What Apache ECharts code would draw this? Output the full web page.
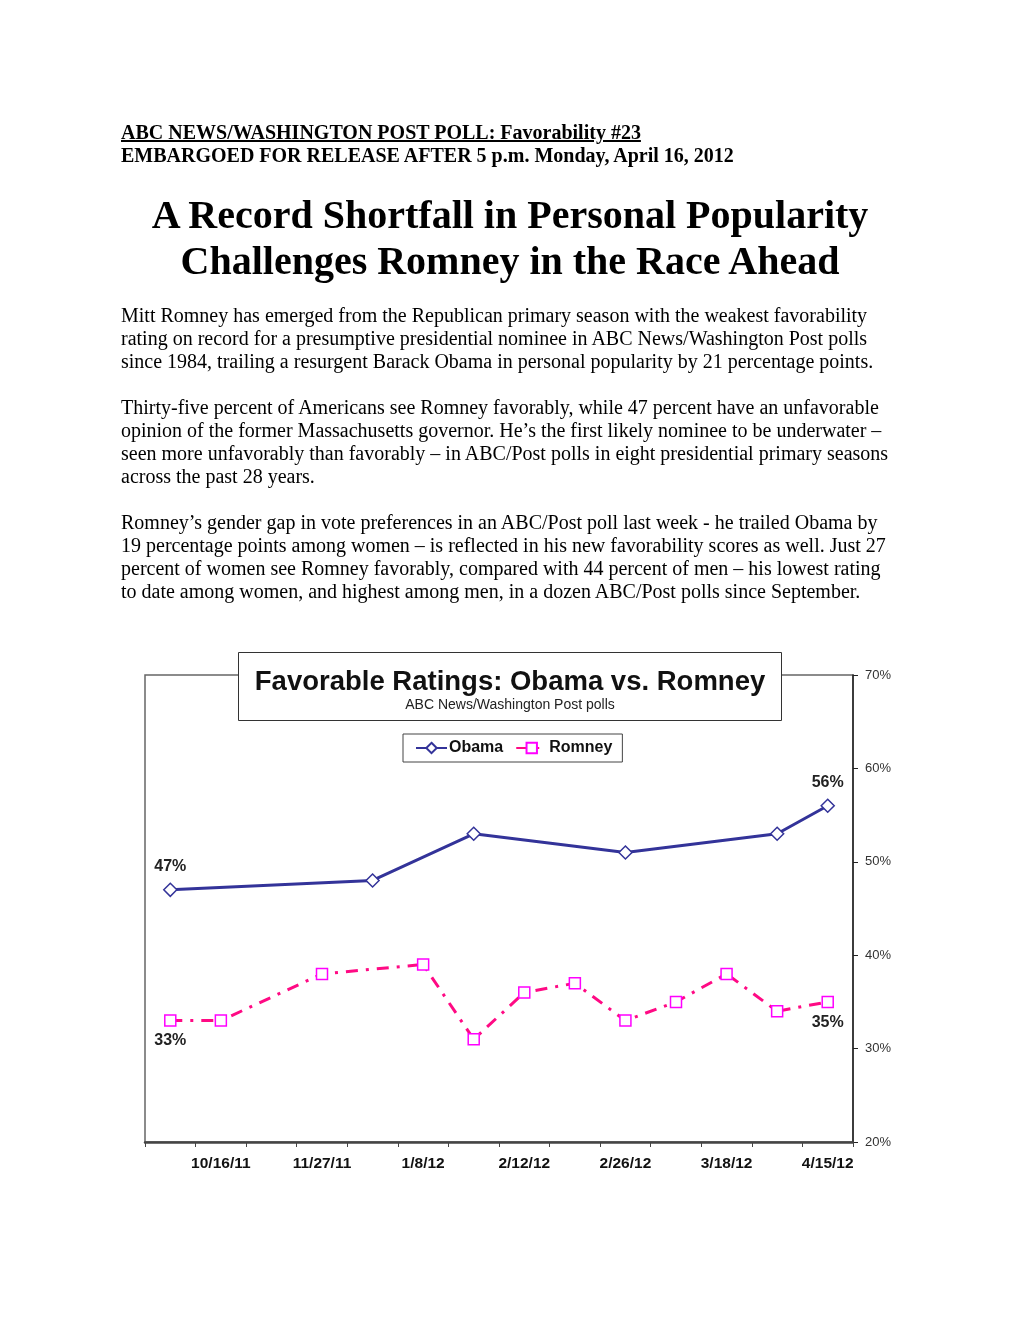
<!DOCTYPE html>
<html>
<head>
<meta charset="utf-8">
<script src="https://cdn.jsdelivr.net/npm/echarts@6/dist/echarts.min.js"></script>
<style>
  html, body { margin: 0; padding: 0; background: #fff; }
  body { width: 1020px; height: 1320px; position: relative; overflow: hidden; }
  .serif { font-family: "Liberation Serif", "Times New Roman", serif; color: #000; position: absolute; white-space: nowrap; }
  #hdr { left: 121px; top: 121px; font-size: 20px; line-height: 23px; font-weight: bold; }
  #hdr u { text-decoration: underline; }
  #ttl { left: 0; width: 1020px; text-align: center; top: 192px; font-size: 40px; line-height: 46px; font-weight: bold; }
  .p { left: 121px; font-size: 20px; line-height: 23px; }
  #chart { position: absolute; left: 0; top: 0; width: 1020px; height: 1320px; }
</style>
</head>
<body>
<div id="chart"></div>
<div id="hdr" class="serif"><u>ABC NEWS/WASHINGTON POST POLL: Favorability #23</u><br>EMBARGOED FOR RELEASE AFTER 5 p.m. Monday, April 16, 2012</div>
<div id="ttl" class="serif">A Record Shortfall in Personal Popularity<br>Challenges Romney in the Race Ahead</div>
<div class="serif p" style="top:304px">Mitt Romney has emerged from the Republican primary season with the weakest favorability<br>rating on record for a presumptive presidential nominee in ABC News/Washington Post polls<br>since 1984, trailing a resurgent Barack Obama in personal popularity by 21 percentage points.</div>
<div class="serif p" style="top:396px">Thirty-five percent of Americans see Romney favorably, while 47 percent have an unfavorable<br>opinion of the former Massachusetts governor. He’s the first likely nominee to be underwater –<br>seen more unfavorably than favorably – in ABC/Post polls in eight presidential primary seasons<br>across the past 28 years.</div>
<div class="serif p" style="top:511px">Romney’s gender gap in vote preferences in an ABC/Post poll last week - he trailed Obama by<br>19 percentage points among women – is reflected in his new favorability scores as well. Just 27<br>percent of women see Romney favorably, compared with 44 percent of men – his lowest rating<br>to date among women, and highest among men, in a dozen ABC/Post polls since September.</div>
<script>
// Poll dates (only labelled ones are known; others left blank)
var categories = ['', '10/16/11', '', '11/27/11', '', '1/8/12', '', '2/12/12', '', '2/26/12', '', '3/18/12', '', '4/15/12'];
var obama   = [47, null, null, null, 48, null, 53, null, null, 51, null, null, 53, 56];
var romney  = [33, 33, null, 38, null, 39, 31, 36, 37, 33, 35, 38, 34, 35];
var yTicks  = [20, 30, 40, 50, 60, 70];

var SANS = '"Liberation Sans", Arial, sans-serif';
var chart = echarts.init(document.getElementById('chart'), null, { renderer: 'canvas' });

function endLabel(arr) {
  var last = arr.length - 1;
  return function (params) {
    return (params.dataIndex === 0 || params.dataIndex === last) ? params.value + '%' : '';
  };
}

chart.setOption({
  animation: false,
  title: {
    text: 'Favorable Ratings: Obama vs. Romney',
    subtext: 'ABC News/Washington Post polls',
    left: 'center',
    top: 652,
    padding: [15, 17, 8, 17],
    itemGap: 0,
    borderColor: '#333',
    borderWidth: 1,
    backgroundColor: '#fff',
    textStyle: { fontFamily: SANS, fontSize: 27.5, fontWeight: 'bold', color: '#111', lineHeight: 30 },
    subtextStyle: { fontFamily: SANS, fontSize: 14, color: '#222', lineHeight: 16 },
    z: 10
  },
  legend: {
    data: ['Obama', 'Romney'],
    left: 403,
    top: 734,
    padding: [6, 10, 6, 12],
    itemGap: 12,
    itemWidth: 31,
    itemHeight: 13,
    borderColor: '#444',
    borderWidth: 1,
    backgroundColor: '#fff',
    textStyle: { fontFamily: SANS, fontSize: 16, fontWeight: 'bold', color: '#111', padding: [0, 0, 0, -3] }
  },
  grid: {
    left: 145, right: 167, top: 675, bottom: 178,
    show: true, borderColor: '#666', borderWidth: 1.5, backgroundColor: 'transparent'
  },
  xAxis: {
    type: 'category',
    data: categories,
    boundaryGap: true,
    axisLine: { lineStyle: { color: '#444', width: 2.5 } },
    axisTick: { show: true, interval: 0, alignWithLabel: false, length: 5, lineStyle: { color: '#444', width: 1 } },
    axisLabel: { interval: 0, margin: 14, fontFamily: SANS, fontSize: 15.5, fontWeight: 'bold', color: '#111' },
    splitLine: { show: false }
  },
  yAxis: {
    type: 'value',
    position: 'right',
    min: yTicks[0], max: yTicks[yTicks.length - 1], interval: 10,
    axisLine: { show: true, lineStyle: { color: '#222', width: 1.5 } },
    axisTick: { show: true, length: 5, inside: false, lineStyle: { color: '#222' } },
    axisLabel: { margin: 12, fontFamily: SANS, fontSize: 13, color: '#333', formatter: '{value}%' },
    splitLine: { show: false }
  },
  series: [
    {
      name: 'Obama',
      type: 'line',
      data: obama,
      connectNulls: true,
      symbol: 'diamond',
      symbolSize: 13,
      showAllSymbol: true,
      color: '#333399',
      lineStyle: { color: '#333399', width: 3 },
      itemStyle: { color: '#fff', borderColor: '#333399', borderWidth: 1.5 },
      label: { show: true, position: 'top', distance: 8, formatter: endLabel(obama),
               fontFamily: SANS, fontSize: 16, fontWeight: 'bold', color: '#222' },
      z: 3
    },
    {
      name: 'Romney',
      type: 'line',
      data: romney,
      connectNulls: true,
      symbol: 'rect',
      symbolSize: 11,
      showAllSymbol: true,
      color: '#FF0080',
      lineStyle: { color: '#FF0A84', width: 3, type: [12, 8, 3, 8] },
      itemStyle: { color: '#fff', borderColor: '#FF00FF', borderWidth: 1.5 },
      label: { show: true, position: 'bottom', distance: 6, formatter: endLabel(romney),
               fontFamily: SANS, fontSize: 16, fontWeight: 'bold', color: '#222' },
      z: 3
    }
  ]
});
</script>
</body>
</html>
